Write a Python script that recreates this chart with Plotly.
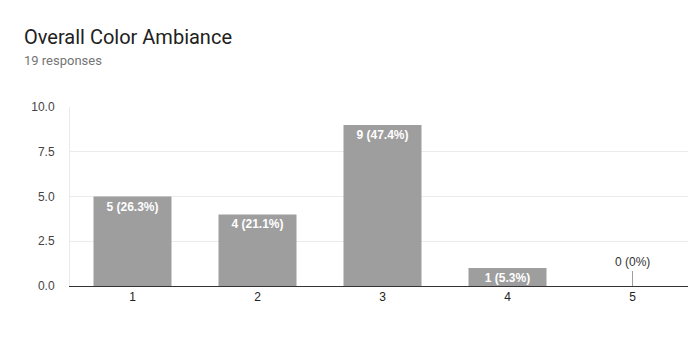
import plotly.graph_objects as go

categories = ["1", "2", "3", "4", "5"]
counts = [5, 4, 9, 1, 0]
percents = ["26.3%", "21.1%", "47.4%", "5.3%", "0%"]
total_responses = 19
y_ticks = [0, 2.5, 5, 7.5, 10]
y_tick_labels = ["0.0", "2.5", "5.0", "7.5", "10.0"]

inside_text = [f"<b>{c} ({p})</b>" if c > 0 else "" for c, p in zip(counts, percents)]

# page body has an 8px margin, so figure coordinates are offset by 8px
L, R, T, B = 62, 9, 99, 83
PW = 696 - L - R
PH = 361 - T - B

fig = go.Figure()
fig.add_trace(go.Bar(
    x=categories, y=counts, text=inside_text,
    textposition="inside", insidetextanchor="end",
    textangle=0,
    textfont=dict(family="Liberation Sans, Arial", size=12, color="white"),
    marker=dict(color="#9e9e9e", line=dict(width=0)),
    hoverinfo="skip", cliponaxis=False,
))

for i, (c, p) in enumerate(zip(counts, percents)):
    if c == 0:
        fig.add_annotation(
            x=i, y=0, text=f"{c} ({p})", showarrow=True,
            arrowhead=0, arrowwidth=1, arrowcolor="#9e9e9e",
            ax=0, ay=-15, yanchor="bottom",
            font=dict(family="Liberation Sans, Arial", size=12, color="#333333"),
        )

fig.add_annotation(
    text="Overall Color Ambiance", xref="paper", yref="paper",
    x=(14 - L) / PW, y=1 + (T - 15) / PH, xanchor="left", yanchor="top",
    showarrow=False,
    font=dict(family="Roboto", size=20, color="#212121"),
)
fig.add_annotation(
    text=f"{total_responses} responses", xref="paper", yref="paper",
    x=(14 - L) / PW, y=1 + (T - 43) / PH, xanchor="left", yanchor="top",
    showarrow=False,
    font=dict(family="Roboto", size=13, color="#757575"),
)

fig.update_layout(
    width=696, height=361,
    margin=dict(l=L, r=R, t=T, b=B),
    paper_bgcolor="white", plot_bgcolor="white",
    bargap=0.376, showlegend=False,
    uniformtext=dict(minsize=12, mode="show"),
)

fig.update_xaxes(
    type="category", showline=True, linecolor="#333333", linewidth=1,
    showgrid=False, ticks="", zeroline=False,
    tickfont=dict(family="Liberation Sans, Arial", size=12, color="#222222"),
)
fig.update_yaxes(
    range=[0, 10], tickvals=y_ticks, ticktext=y_tick_labels,
    showgrid=True, gridcolor="#ebebeb", gridwidth=1,
    showline=True, mirror=True, linecolor="#ebebeb", linewidth=1,
    zeroline=False, ticks="", ticklabelstandoff=12,
    tickfont=dict(family="Liberation Sans, Arial", size=12, color="#444444"),
)

fig.write_html("out.html")
